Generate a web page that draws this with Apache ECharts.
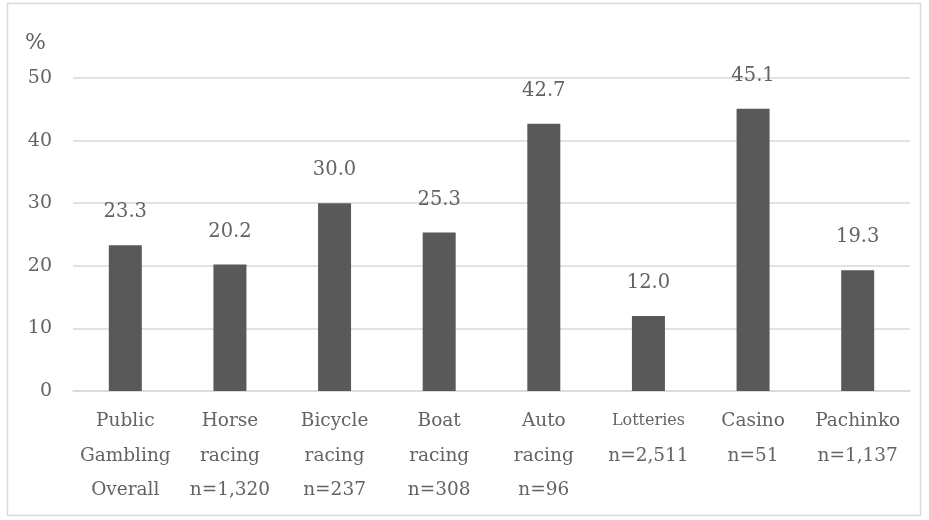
<!DOCTYPE html>
<html>
<head>
<meta charset="utf-8">
<script src="https://cdn.jsdelivr.net/npm/echarts@6/dist/echarts.min.js"></script>
<style>
  html, body { margin: 0; padding: 0; background: #fff; }
  #chart { width: 929px; height: 520px; }
</style>
</head>
<body>
<div id="chart"></div>
<script>
// Share of respondents per gambling type (%)
var categories = [
  'Public\nGambling\nOverall',
  'Horse\nracing\nn=1,320',
  'Bicycle\nracing\nn=237',
  'Boat\nracing\nn=308',
  'Auto\nracing\nn=96',
  '{small|Lotteries}\nn=2,511',
  'Casino\nn=51',
  'Pachinko\nn=1,137'
];
var values = [23.3, 20.2, 30.0, 25.3, 42.7, 12.0, 45.1, 19.3];
var yTicks = [0, 10, 20, 30, 40, 50];

var FONT = '"DejaVu Serif", "Liberation Serif", serif';
var TEXT = '#636363';

var chart = echarts.init(document.getElementById('chart'));
chart.setOption({
  animation: false,
  backgroundColor: '#fff',
  textStyle: { fontFamily: FONT },
  graphic: [
    {
      type: 'rect',
      shape: { x: 7.5, y: 3.5, width: 913, height: 512 },
      style: { fill: 'none', stroke: '#d9d9d9', lineWidth: 1.5 },
      silent: true
    },
    {
      type: 'text',
      left: 25, top: 32,
      style: { text: '%', fontFamily: FONT, fontSize: 22, fill: TEXT }
    }
  ],
  grid: { left: 73, right: 19, top: 78, bottom: 129, containLabel: false },
  xAxis: {
    type: 'category',
    data: categories,
    axisLine: { show: true, lineStyle: { color: '#d9d9d9', width: 1.5 } },
    axisTick: { show: false },
    axisLabel: {
      interval: 0,
      color: TEXT,
      fontFamily: FONT,
      fontSize: 18.5,
      lineHeight: 34.5,
      margin: 13,
      rich: {
        small: { fontSize: 16, color: TEXT, fontFamily: FONT, lineHeight: 34.5 }
      }
    }
  },
  yAxis: {
    type: 'value',
    min: 0,
    max: 50,
    interval: 10,
    axisLine: { show: false },
    axisTick: { show: false },
    splitLine: { lineStyle: { color: '#d9d9d9', width: 1.5 } },
    axisLabel: {
      color: TEXT,
      fontFamily: FONT,
      fontSize: 19,
      margin: 21,
      formatter: function (v) { return yTicks.indexOf(v) >= 0 ? String(v) : ''; }
    }
  },
  series: [{
    type: 'bar',
    data: values,
    barWidth: 33,
    itemStyle: { color: '#595959' },
    label: {
      show: true,
      position: 'top',
      distance: 23,
      color: TEXT,
      fontFamily: FONT,
      fontSize: 19.5,
      formatter: function (p) { return p.value.toFixed(1); }
    }
  }]
});
</script>
</body>
</html>
